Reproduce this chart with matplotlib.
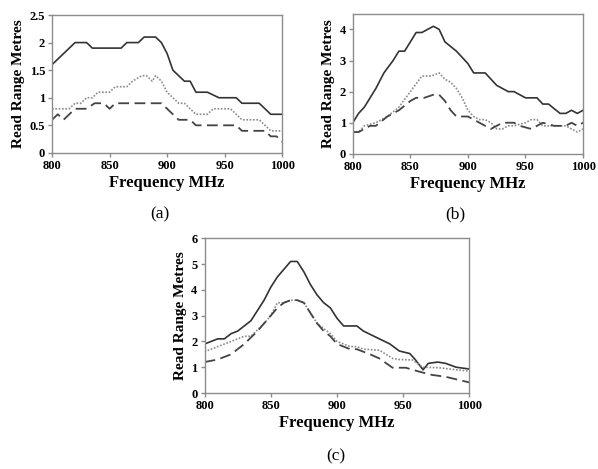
import matplotlib
matplotlib.use('Agg')
import matplotlib.pyplot as plt

plt.rcParams['font.family'] = ['Liberation Serif', 'DejaVu Serif']

# (a)
a_solid_x = [800, 820, 830, 835, 855, 860, 865, 875, 880, 890, 895, 900, 905, 910, 915, 920, 925, 935, 945, 955, 960, 965, 980, 990, 1000]
a_solid_y = [1.6, 2.0, 2.0, 1.9, 1.9, 1.9, 2.0, 2.0, 2.1, 2.1, 2.0, 1.8, 1.5, 1.4, 1.3, 1.3, 1.1, 1.1, 1.0, 1.0, 1.0, 0.9, 0.9, 0.7, 0.7]
a_dot_x = [800, 815, 820, 825, 830, 835, 840, 845, 850, 855, 865, 870, 878, 882, 887, 890, 895, 900, 905, 910, 915, 925, 935, 940, 945, 955, 960, 965, 980, 990, 1000]
a_dot_y = [0.8, 0.8, 0.9, 0.9, 1.0, 1.0, 1.1, 1.1, 1.1, 1.2, 1.2, 1.3, 1.4, 1.4, 1.3, 1.4, 1.3, 1.1, 1.0, 0.9, 0.9, 0.7, 0.7, 0.8, 0.8, 0.8, 0.7, 0.6, 0.6, 0.4, 0.4]
a_dash_x = [800, 805, 810, 820, 830, 837, 845, 850, 855, 895, 900, 905, 910, 920, 925, 960, 965, 985, 990, 995, 1000]
a_dash_y = [0.6, 0.7, 0.6, 0.8, 0.8, 0.9, 0.9, 0.8, 0.9, 0.9, 0.8, 0.7, 0.6, 0.6, 0.5, 0.5, 0.4, 0.4, 0.3, 0.3, 0.2]

# (b)
b_solid_x = [800, 805, 810, 820, 827, 835, 840, 845, 855, 860, 870, 875, 880, 890, 900, 905, 915, 925, 935, 940, 950, 960, 965, 970, 980, 985, 990, 995, 1000]
b_solid_y = [1.0, 1.3, 1.5, 2.1, 2.6, 3.0, 3.3, 3.3, 3.9, 3.9, 4.1, 4.0, 3.6, 3.3, 2.9, 2.6, 2.6, 2.2, 2.0, 2.0, 1.8, 1.8, 1.6, 1.6, 1.3, 1.3, 1.4, 1.3, 1.4]
b_dot_x = [800, 805, 810, 820, 830, 840, 850, 860, 868, 875, 880, 885, 890, 895, 900, 905, 910, 915, 920, 925, 930, 935, 940, 950, 955, 960, 965, 975, 985, 995, 1000]
b_dot_y = [0.7, 0.7, 0.9, 1.0, 1.2, 1.5, 2.0, 2.5, 2.5, 2.6, 2.4, 2.3, 2.1, 1.8, 1.4, 1.2, 1.1, 1.1, 1.0, 0.8, 0.8, 0.9, 0.9, 1.0, 1.1, 1.1, 0.9, 0.9, 0.9, 0.7, 0.8]
b_dash_x = [800, 805, 815, 820, 830, 840, 850, 855, 862, 870, 875, 880, 885, 890, 900, 910, 920, 925, 930, 940, 945, 955, 960, 965, 975, 985, 990, 995, 1000]
b_dash_y = [0.7, 0.7, 0.9, 0.9, 1.2, 1.4, 1.7, 1.8, 1.8, 1.9, 1.9, 1.7, 1.4, 1.2, 1.2, 1.0, 0.8, 0.9, 1.0, 1.0, 0.9, 0.8, 0.9, 1.0, 0.9, 0.9, 1.0, 0.9, 1.0]

# (c)
c_solid_x = [800, 810, 815, 820, 825, 835, 845, 850, 855, 860, 865, 870, 875, 880, 885, 890, 895, 900, 905, 910, 915, 920, 932, 940, 947, 955, 959, 965, 969, 976, 982, 990, 1000]
c_solid_y = [1.9, 2.1, 2.1, 2.3, 2.4, 2.8, 3.6, 4.1, 4.5, 4.8, 5.1, 5.1, 4.7, 4.2, 3.8, 3.5, 3.3, 2.9, 2.6, 2.6, 2.6, 2.4, 2.1, 1.9, 1.63, 1.53, 1.3, 0.9, 1.15, 1.2, 1.15, 1.0, 0.93]
c_dot_x = [800, 820, 830, 835, 845, 850, 855, 860, 865, 870, 875, 880, 885, 890, 895, 900, 910, 915, 920, 932, 942, 947, 957, 965, 977, 990, 1000]
c_dot_y = [1.6, 2.0, 2.2, 2.2, 2.7, 3.0, 3.5, 3.5, 3.6, 3.6, 3.5, 3.1, 2.7, 2.5, 2.3, 2.0, 1.8, 1.8, 1.7, 1.66, 1.34, 1.3, 1.28, 1.0, 0.98, 0.9, 0.85]
c_dash_x = [800, 810, 820, 830, 840, 850, 855, 860, 865, 870, 875, 880, 885, 890, 895, 900, 910, 915, 925, 932, 942, 952, 962, 972, 982, 1000]
c_dash_y = [1.2, 1.3, 1.5, 1.9, 2.4, 3.0, 3.3, 3.5, 3.6, 3.6, 3.5, 3.1, 2.7, 2.4, 2.2, 1.9, 1.7, 1.7, 1.5, 1.34, 0.98, 0.98, 0.83, 0.7, 0.63, 0.41]

panels = [
    ([0.087, 0.674, 0.385, 0.294], (0, 2.5), [0, 0.5, 1, 1.5, 2, 2.5], ['0', '0.5', '1', '1.5', '2', '2.5'],
     (a_solid_x, a_solid_y), (a_dot_x, a_dot_y), (a_dash_x, a_dash_y), '(a)', (0.268, 0.542)),
    ([0.590, 0.672, 0.385, 0.2985], (0, 4.5), [0, 1, 2, 3, 4], ['0', '1', '2', '3', '4'],
     (b_solid_x, b_solid_y), (b_dot_x, b_dot_y), (b_dash_x, b_dash_y), '(b)', (0.761, 0.542)),
    ([0.342, 0.162, 0.443, 0.330], (0, 6), [0, 1, 2, 3, 4, 5, 6], ['0', '1', '2', '3', '4', '5', '6'],
     (c_solid_x, c_solid_y), (c_dot_x, c_dot_y), (c_dash_x, c_dash_y), '(c)', (0.561, 0.026)),
]

fig = plt.figure(figsize=(5.98, 4.69), dpi=100)

for rect, ylim, yticks, ylabels, solid, dot, dash, tag, tagpos in panels:
    ax = fig.add_axes(rect)
    ax.plot(*solid, color='#333333', lw=1.2)
    ax.plot(*dot, color='#8a8a8a', lw=1.2, ls=(0, (1, 1)))
    ax.plot(*dash, color='#444444', lw=1.3, ls=(0, (6, 3)))
    ax.set_xlim(800, 1000)
    ax.set_ylim(*ylim)
    ax.set_xticks([800, 850, 900, 950, 1000])
    ax.set_yticks(yticks)
    ax.set_yticklabels(ylabels)
    for s in ax.spines.values():
        s.set_color('#8c8c8c')
        s.set_linewidth(1.0)
    ax.tick_params(direction='out', length=3, width=1, color='#8c8c8c', labelsize=9, pad=2)
    for lab in ax.get_xticklabels() + ax.get_yticklabels():
        lab.set_fontweight('bold')
    ax.set_xlabel('Frequency MHz', fontsize=12, fontweight='bold', labelpad=2)
    ax.set_ylabel('Read Range Metres', fontsize=11, fontweight='bold', labelpad=3)
    fig.text(tagpos[0], tagpos[1], tag, ha='center', va='center', fontsize=12.5)

fig.savefig('out.png', dpi=100)
